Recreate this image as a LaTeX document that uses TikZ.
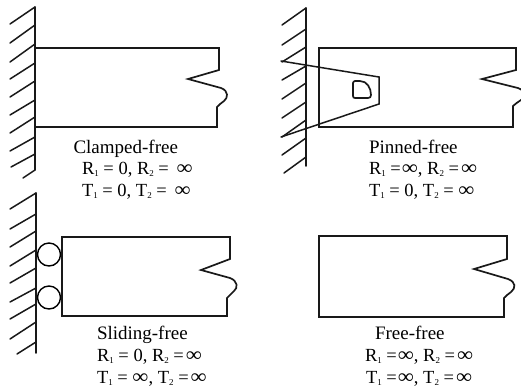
\documentclass[tikz,border=0pt]{standalone}
\usepackage{fontspec}
\usepackage{graphicx}
\setmainfont{Liberation Serif}
\newcommand{\subn}[1]{\raisebox{-0.32ex}{\fontsize{9}{9}\selectfont #1}}
\newcommand{\infy}{\scalebox{1.22}[1.1]{∞}}
\tikzset{
  line/.style={line width=1.7pt,line join=miter,line cap=round,black!90},
  thin line/.style={line width=1.5pt,line cap=round,black!90},
  lab/.style={anchor=base west,inner sep=0pt,outer sep=0pt,font=\fontsize{19}{19}\selectfont},
  val/.style={anchor=base west,inner sep=0pt,outer sep=0pt,font=\fontsize{18.5}{19}\selectfont}
}
\begin{document}
\begin{tikzpicture}[x=1pt,y=-1pt]
\useasboundingbox (0,0) rectangle (521,389);
\clip (0,0) rectangle (521,389);
% Clamped-free
\draw[line] (35,7) -- (35,170);
\foreach \a/\b/\c/\d in {35/7/10/24,35/25/10/43,35/44/10/62,35/63/10/79,35/81/10/97,35/100/10/115,35/117/10/133,35/137/10/151,35/154/11/167,35/170/23/178}
  \draw[thin line] (\a,\b) -- (\c,\d);
\draw[line] (35,48) -- (219,48) -- (219,70) -- (188,79) -- (221,88) .. controls (229,91) and (228,98) .. (224,101) .. controls (221,103) and (219,105) .. (217,107) -- (217,127) -- (35,127);
\node[lab] (t1) at (73.5,153) {Clamped-free};
\node[val] (r1) at (82,174) {R\subn{1} = 0, R\subn{2} =\, \infy};
\node[val] (s1) at (82,196) {T\subn{1} = 0, T\subn{2} =\, \infy};
% Pinned-free
\draw[line] (306,8) -- (306,166);
\foreach \b/\d in {8/25,29/45,47/62,66/80,83/99,102/118,120/137,138/155}
  \draw[thin line] (306,\b) -- (282,\d);
\draw[thin line] (306,157) -- (284,173);
\draw[line] (319,48) -- (516,48) -- (516,70) -- (482,79) -- (518,88) .. controls (526,91) and (526,97) .. (521,100) .. controls (518,102) and (515,104) .. (513,106) -- (513,127) -- (319,127) -- cycle;
\draw[thin line] (281,61) -- (379,77) -- (379,104) -- (281,137);
\draw[line] (353,83) -- (353,96) .. controls (353,97.5) and (354,98) .. (355,98) -- (368,98) .. controls (370,98) and (371,97) .. (371,95) .. controls (371,88) and (367,81) .. (360,81) -- (355,81) .. controls (354,81) and (353,82) .. (353,83) -- cycle;
\node[lab] (t2) at (369,153) {Pinned-free};
\node[val] (r2) at (369,174) {R\subn{1} =\kern1pt\infy, R\subn{2} =\kern2pt\infy};
\node[val] (s2) at (369,196) {T\subn{1} = 0, T\subn{2} = \infy};
% Sliding-free
\draw[line] (36,193) -- (36,353);
\foreach \b/\d in {193/209,214/229,231/247,250/266,268/283,288/302,304/319,322/339}
  \draw[thin line] (36,\b) -- (10,\d);
\draw[thin line] (36,342) -- (17,354);
\node[draw,circle,line width=1.4pt,minimum size=23pt,inner sep=0pt] (c1) at (49,254.5) {};
\node[draw,circle,line width=1.4pt,minimum size=23pt,inner sep=0pt] (c2) at (49,297.5) {};
\draw[line] (62,237) -- (230,237) -- (230,259) -- (201,270) -- (230,278) .. controls (238,281) and (238,288) .. (234,291) .. controls (231,294) and (229,296) .. (227,298) -- (227,316) -- (62,316) -- cycle;
\node[lab] (t3) at (97,339.5) {Sliding-free};
\node[val] (r3) at (97,361) {R\subn{1} = 0, R\subn{2} =\kern2pt\infy};
\node[val] (s3) at (97,383) {T\subn{1} = \infy, T\subn{2} =\kern2pt\infy};
% Free-free
\draw[line] (319,236) -- (507,236) -- (507,259) -- (474,269) -- (508,279) .. controls (516,282) and (516,288) .. (511,292) .. controls (508,294) and (506,296) .. (504,298) -- (504,317) -- (319,317) -- cycle;
\node[lab] (t4) at (375,339.5) {Free-free};
\node[val] (r4) at (365,361) {R\subn{1} =\kern1pt\infy, R\subn{2} =\kern2pt\infy};
\node[val] (s4) at (366,383) {T\subn{1} =\kern1pt\infy, T\subn{2} =\kern2pt\infy};
\end{tikzpicture}
\end{document}
